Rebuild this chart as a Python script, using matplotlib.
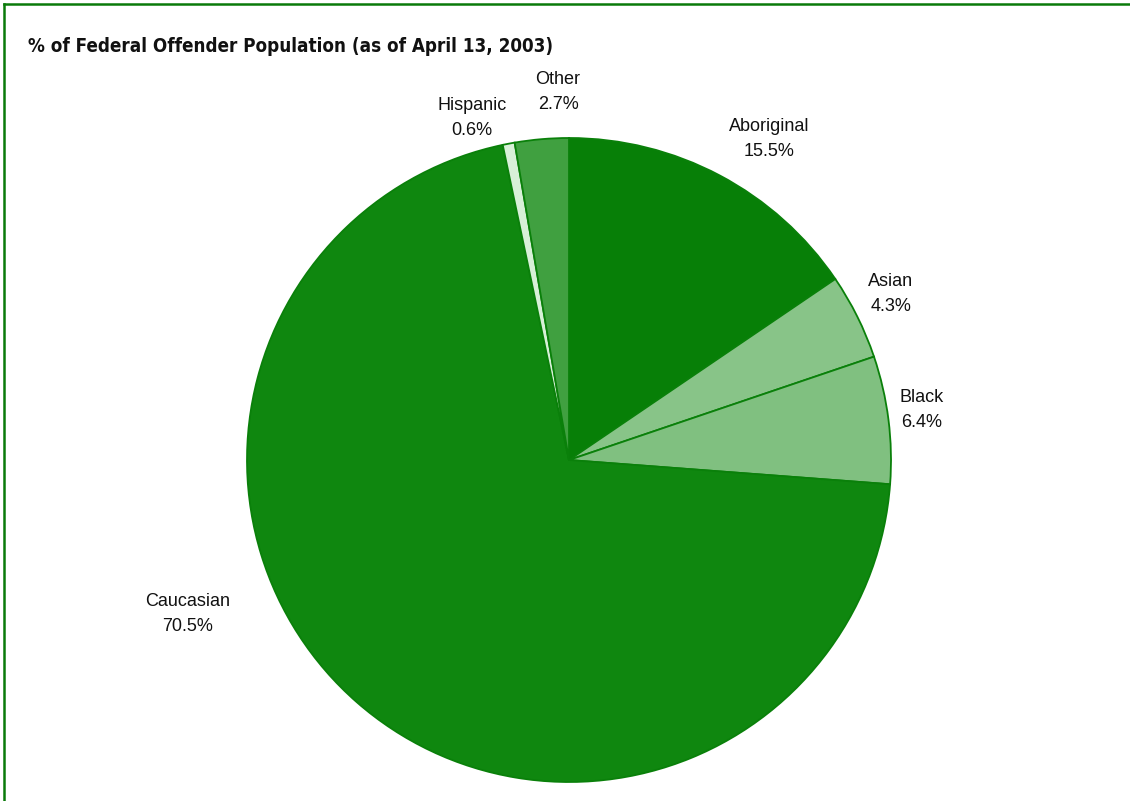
import matplotlib
matplotlib.use("Agg")
import matplotlib.pyplot as plt
from matplotlib.lines import Line2D
from matplotlib import font_manager

categories = ["Aboriginal", "Asian", "Black", "Caucasian", "Hispanic", "Other"]
values = [15.5, 4.3, 6.4, 70.5, 0.6, 2.7]
colors = ["#077f07", "#88c488", "#80c080", "#0f870f", "#d8f0d8", "#40a040"]
title = "% of Federal Offender Population (as of April 13, 2003)"

W, H = 1130, 801
cx, cy, R = 569, 460, 322

fig = plt.figure(figsize=(W / 100, H / 100), dpi=100)
ax = fig.add_axes([0, 0, 1, 1])
ax.set_aspect("equal")
ax.axis("off")

ax.pie(values, colors=colors, startangle=90, counterclock=False, radius=1,
       wedgeprops=dict(edgecolor="#0a800a", linewidth=1.3), center=(0, 0))
ax.set_xlim(-cx / R, (W - cx) / R)
ax.set_ylim(-(H - cy) / R, cy / R)

# label positions in pixel coordinates (label centres)
label_px = {
    "Aboriginal": (769, 139),
    "Asian": (891, 294),
    "Black": (922, 410),
    "Caucasian": (188, 614),
    "Hispanic": (472, 118),
    "Other": (558, 92),
}
for cat, v in zip(categories, values):
    px, py = label_px[cat]
    ax.text((px - cx) / R, (cy - py) / R, f"{cat}\n{v}%", ha="center", va="center",
            fontsize=13, family=["Liberation Sans", "DejaVu Sans"], color="#111111",
            linespacing=1.55)

# choose a narrow font if available
ttf = font_manager.fontManager.ttflist
names = {f.name for f in ttf}
stretch_kw = {}
if "Liberation Sans Narrow" in names:
    tfam = "Liberation Sans Narrow"
elif any(f.name == "DejaVu Sans" and str(f.stretch) in ("condensed", "semi-condensed")
         for f in ttf):
    tfam = "DejaVu Sans"
    stretch_kw = dict(fontstretch="condensed")
else:
    tfam = "Liberation Sans"

fig.text(28 / W, 1 - 47 / H, title, ha="left", va="center", fontsize=13.5,
         fontweight="bold", family=[tfam, "DejaVu Sans"], color="#111111",
         **stretch_kw)

# frame lines (top and left)
fig.add_artist(Line2D([4 / W, 1], [1 - 4 / H, 1 - 4 / H], color="#0a7a0a", lw=1.8,
                      transform=fig.transFigure))
fig.add_artist(Line2D([4 / W, 4 / W], [0, 1 - 4 / H], color="#0a7a0a", lw=1.8,
                      transform=fig.transFigure))

fig.savefig("out.png", dpi=100)
